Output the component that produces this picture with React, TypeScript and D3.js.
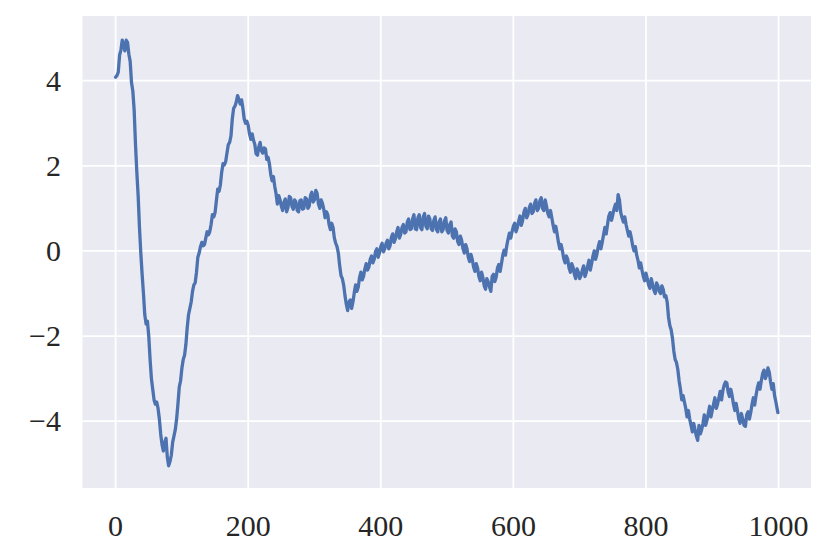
import React from "react";
import * as d3 from "d3";

const xTicks = [0, 200, 400, 600, 800, 1000];
const yTicks = [-4, -2, 0, 2, 4];

// sample positions (every 2 steps, plus last index)
const xs = [...d3.range(0, 1000, 2), 999];

const values = [
  4.08, 4.12, 4.2, 4.6, 4.72, 4.95, 4.85, 4.7, 4.95, 4.9,
  4.62, 4.45, 3.95, 3.75, 3.3, 2.5, 1.85, 1.3, 0.55, -0.05,
  -0.55, -1.0, -1.5, -1.72, -1.65, -2.0, -2.55, -3.0, -3.25, -3.5,
  -3.6, -3.55, -3.7, -3.95, -4.3, -4.55, -4.7, -4.5, -4.4, -4.85,
  -5.05, -4.95, -4.8, -4.5, -4.35, -4.2, -3.95, -3.6, -3.2, -3.05,
  -2.75, -2.55, -2.45, -2.2, -1.8, -1.5, -1.35, -1.2, -0.95, -0.8,
  -0.75, -0.5, -0.15, -0.05, 0.1, 0.2, 0.12, 0.15, 0.3, 0.45,
  0.38, 0.45, 0.62, 0.85, 0.8, 0.9, 1.18, 1.45, 1.4, 1.55,
  1.85, 2.05, 2.02, 2.1, 2.3, 2.5, 2.55, 2.7, 3.1, 3.35,
  3.4, 3.5, 3.65, 3.55, 3.45, 3.55, 3.35, 3.1, 3.0, 3.05,
  2.95, 2.75, 2.62, 2.75, 2.6, 2.5, 2.28, 2.25, 2.45, 2.55,
  2.35, 2.3, 2.42, 2.4, 2.15, 2.2, 2.05, 1.8, 1.65, 1.75,
  1.52, 1.35, 1.1, 1.3, 1.2, 1.05, 0.95, 1.15, 1.22, 0.92,
  1.02, 1.28, 1.25, 1.05, 0.98, 1.2, 1.15, 0.95, 0.92, 1.18,
  1.2, 0.98, 1.0, 1.25, 1.22, 1.0, 1.05, 1.3, 1.38, 1.15,
  1.2, 1.42, 1.35, 1.1, 1.0, 1.2, 1.12, 0.98, 0.78, 0.92,
  0.85, 0.62, 0.5, 0.65, 0.55, 0.3, 0.18, 0.1, -0.05, -0.35,
  -0.58, -0.65, -0.8, -1.05, -1.25, -1.4, -1.2, -1.15, -1.35, -1.2,
  -0.98, -0.8, -0.95, -0.85, -0.62, -0.5, -0.68, -0.6, -0.42, -0.3,
  -0.45, -0.38, -0.2, -0.12, -0.28, -0.2, -0.02, 0.05, -0.15, -0.05,
  0.1, 0.18, -0.02, 0.05, 0.18, 0.25, 0.05, 0.12, 0.32, 0.4,
  0.2, 0.28, 0.45, 0.55, 0.3, 0.38, 0.55, 0.62, 0.42, 0.45,
  0.68, 0.75, 0.5, 0.52, 0.75, 0.85, 0.52, 0.5, 0.78, 0.85,
  0.55, 0.5, 0.8, 0.88, 0.58, 0.52, 0.82, 0.75, 0.52, 0.48,
  0.72, 0.8, 0.5, 0.45, 0.68, 0.75, 0.45, 0.5, 0.7, 0.78,
  0.48, 0.42, 0.62, 0.68, 0.35, 0.3, 0.52, 0.45, 0.22, 0.15,
  0.35, 0.25, 0.05, -0.05, 0.15, 0.05, -0.15, -0.25, -0.08, -0.2,
  -0.38, -0.48, -0.3, -0.4, -0.6, -0.7, -0.5, -0.62, -0.82, -0.9,
  -0.65, -0.72, -0.85, -0.95, -0.6, -0.55, -0.72, -0.62, -0.4, -0.32,
  -0.48, -0.3, -0.1, 0.02, -0.1, 0.12, 0.28, 0.42, 0.3, 0.45,
  0.58, 0.65, 0.45, 0.55, 0.7, 0.82, 0.6, 0.72, 0.92, 1.0,
  0.78, 0.85, 1.02, 1.1, 0.88, 0.92, 1.12, 1.2, 0.95, 1.0,
  1.18, 1.25, 1.0, 0.95, 1.2, 1.05, 0.88, 0.8, 0.95, 0.78,
  0.6, 0.45, 0.58, 0.4, 0.2, 0.05, 0.15, 0.0, -0.18, -0.28,
  -0.12, -0.2, -0.4, -0.5, -0.3, -0.38, -0.55, -0.65, -0.42, -0.5,
  -0.65, -0.58, -0.45, -0.35, -0.6, -0.5, -0.35, -0.22, -0.45, -0.3,
  -0.12, 0.0, -0.2, -0.08, 0.1, 0.22, 0.05, 0.2, 0.38, 0.55,
  0.4, 0.62, 0.82, 0.9, 0.72, 0.85, 1.0, 1.1, 0.95, 1.32,
  1.2, 0.9, 0.78, 0.68, 0.8, 0.62, 0.48, 0.35, 0.45, 0.3,
  0.12, 0.0, 0.1, -0.1, -0.22, -0.4, -0.28, -0.45, -0.6, -0.7,
  -0.52, -0.65, -0.8, -0.88, -0.65, -0.78, -0.92, -1.0, -0.75, -0.82,
  -0.95, -1.0, -0.82, -0.9, -1.08, -1.05, -1.2, -1.55, -1.75, -1.85,
  -2.05, -2.35, -2.55, -2.62, -2.78, -3.05, -3.25, -3.5, -3.4, -3.55,
  -3.7, -3.9, -3.75, -3.95, -4.1, -4.25, -4.05, -4.2, -4.35, -4.45,
  -4.1, -4.3, -4.2, -4.05, -3.85, -4.1, -3.98, -3.82, -3.65, -3.9,
  -3.75, -3.6, -3.45, -3.7, -3.6, -3.45, -3.3, -3.5, -3.28, -3.15,
  -3.08, -3.1, -3.32, -3.42, -3.25, -3.4, -3.6, -3.75, -3.58, -3.75,
  -3.95, -4.05, -3.82, -3.95, -4.1, -4.12, -3.85, -3.78, -3.95, -3.8,
  -3.6, -3.45, -3.62, -3.4, -3.22, -3.1, -3.25, -3.05, -2.88, -2.8,
  -3.0, -2.92, -2.75, -2.85, -3.08, -3.25, -3.12, -3.4, -3.55, -3.72,
  -3.8,
];

const W = 830;
const H = 558;
const left = 82.5;
const right = 811;
const top = 16;
const bottom = 488;

export default function App() {
  const x = d3.scaleLinear().domain([-49.95, 1048.95]).range([left, right]);
  const y = d3.scaleLinear().domain([-5.57, 5.52]).range([bottom, top]);
  const data = xs.map((xv, i) => [xv, values[i]] as [number, number]);
  const line = d3
    .line<[number, number]>()
    .x((d) => x(d[0]))
    .y((d) => y(d[1]));
  const font = "'Liberation Serif', 'DejaVu Serif', serif";
  const fmt = (v: number) => (v < 0 ? "\u2212" + Math.abs(v) : String(v));
  return (
    <svg
      width={W}
      height={H}
      style={{ position: "absolute", left: 0, top: 0, background: "#fff" }}
    >
      <rect x={left} y={top} width={right - left} height={bottom - top} fill="#EAEAF2" />
      {xTicks.map((t) => (
        <line key={"gx" + t} x1={x(t)} x2={x(t)} y1={top} y2={bottom} stroke="#fff" strokeWidth={1.8} />
      ))}
      {yTicks.map((t) => (
        <line key={"gy" + t} x1={left} x2={right} y1={y(t)} y2={y(t)} stroke="#fff" strokeWidth={1.8} />
      ))}
      <path
        d={line(data) || ""}
        fill="none"
        stroke="#4C72B0"
        strokeWidth={3.3}
        strokeLinejoin="round"
        strokeLinecap="round"
      />
      {xTicks.map((t) => (
        <text
          key={"tx" + t}
          x={x(t)}
          y={536}
          textAnchor="middle"
          fontFamily={font}
          fontSize={30}
          fill="#262626"
        >
          {fmt(t)}
        </text>
      ))}
      {yTicks.map((t) => (
        <text
          key={"ty" + t}
          x={61}
          y={y(t)}
          dy="0.33em"
          textAnchor="end"
          fontFamily={font}
          fontSize={30}
          fill="#262626"
        >
          {fmt(t)}
        </text>
      ))}
    </svg>
  );
}
